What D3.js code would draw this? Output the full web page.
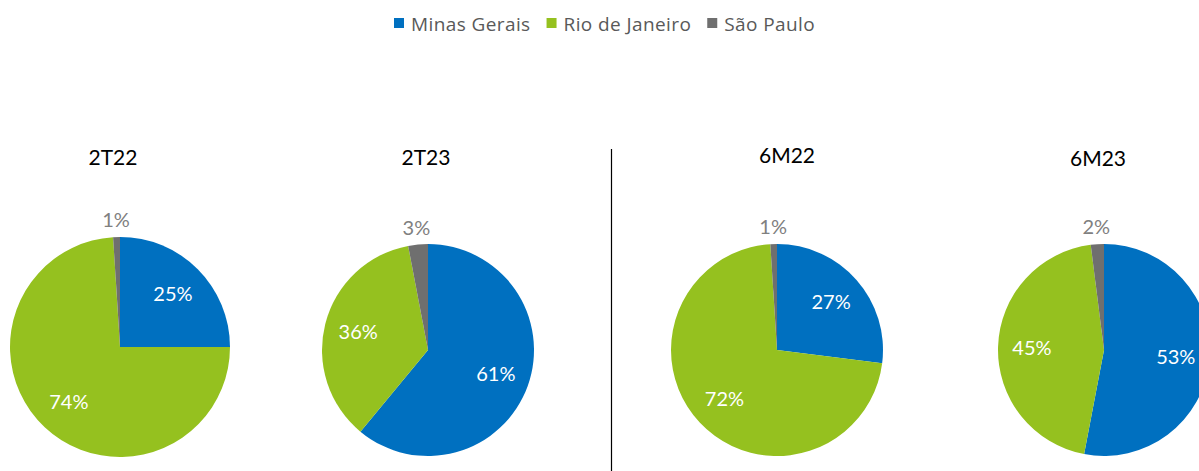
<!DOCTYPE html>
<html>
<head>
<meta charset="utf-8">
<script src="https://cdn.jsdelivr.net/npm/d3@7"></script>
<style>
    body { margin: 0; background: #fff; }
    svg { display: block; }
</style>
</head>
<body>
<script>
// Data
var regions = ["Minas Gerais", "Rio de Janeiro", "São Paulo"];
var periods = ["2T22", "2T23", "6M22", "6M23"];
var minasGerais = [25, 61, 27, 53];
var rioDeJaneiro = [74, 36, 72, 45];
var saoPaulo = [1, 3, 1, 2];

var colors = ["#0070c0", "#95c11f", "#6f6f6f"];

// Frame
var width = 1199,
    height = 471;

var svg = d3.select("body")
    .append("svg")
    .attr("width", width)
    .attr("height", height);

// Panel layout: pie centres and title positions
var panels = [
    { cx: 120, cy: 347, r: 110, tx: 113, ty: 165 },
    { cx: 428, cy: 350, r: 106, tx: 426, ty: 165 },
    { cx: 777, cy: 350, r: 106, tx: 787, ty: 163 },
    { cx: 1104, cy: 350, r: 106, tx: 1098, ty: 166 }
];

var color = d3.scaleOrdinal()
    .domain(regions)
    .range(colors);

var pie = d3.pie()
    .sort(null)
    .value(function(d) { return d.value; });

periods.forEach(function(p, i) {
    var pan = panels[i];
    var data = [
        { name: regions[0], value: minasGerais[i] },
        { name: regions[1], value: rioDeJaneiro[i] },
        { name: regions[2], value: saoPaulo[i] }
    ];

    var arc = d3.arc().innerRadius(0).outerRadius(pan.r);
    var inner = d3.arc().innerRadius(pan.r * 0.68).outerRadius(pan.r * 0.68);
    var outer = d3.arc().innerRadius(pan.r + 17).outerRadius(pan.r + 17);

    // Title
    svg.append("text")
        .attr("x", pan.tx)
        .attr("y", pan.ty)
        .attr("text-anchor", "middle")
        .style("font-family", "Lato, 'Open Sans', sans-serif")
        .style("font-size", "21px")
        .style("fill", "#000")
        .text(p);

    var g = svg.append("g")
        .attr("transform", "translate(" + pan.cx + "," + pan.cy + ")");

    var arcs = pie(data);

    g.selectAll(".slice")
        .data(arcs)
        .enter()
        .append("path")
        .attr("class", "slice")
        .attr("d", arc)
        .attr("fill", function(d) { return color(d.data.name); });

    // Data labels: small slices outside in grey, others inside in white
    g.selectAll(".lbl")
        .data(arcs)
        .enter()
        .append("text")
        .attr("class", "lbl")
        .attr("transform", function(d) {
            var small = d.data.value < 5;
            var c = small ? outer.centroid(d) : inner.centroid(d);
            return "translate(" + c[0] + "," + c[1] + ")";
        })
        .attr("text-anchor", "middle")
        .attr("dy", "0.35em")
        .style("font-family", "Lato, 'Open Sans', sans-serif")
        .style("font-size", "20px")
        .style("fill", function(d) { return d.data.value < 5 ? "#808080" : "#fff"; })
        .text(function(d) { return d.data.value + "%"; });
});

// Divider between quarter and semester charts
svg.append("line")
    .attr("x1", 611.5)
    .attr("x2", 611.5)
    .attr("y1", 149)
    .attr("y2", height)
    .attr("stroke", "#000")
    .attr("stroke-width", 1.2);

// Legend
var legend = svg.append("g").attr("class", "legend");
var lx = 394;
regions.forEach(function(name) {
    var item = legend.append("g");
    item.append("rect")
        .attr("x", lx)
        .attr("y", 18)
        .attr("width", 10)
        .attr("height", 10)
        .attr("fill", color(name));
    var t = item.append("text")
        .attr("x", lx + 17)
        .attr("y", 31)
        .style("font-family", "'Open Sans', sans-serif")
        .style("font-size", "19px")
        .style("letter-spacing", "0.4px")
        .style("fill", "#595959")
        .text(name);
    lx += 17 + t.node().getComputedTextLength() + 16;
});
</script>
</body>
</html>
